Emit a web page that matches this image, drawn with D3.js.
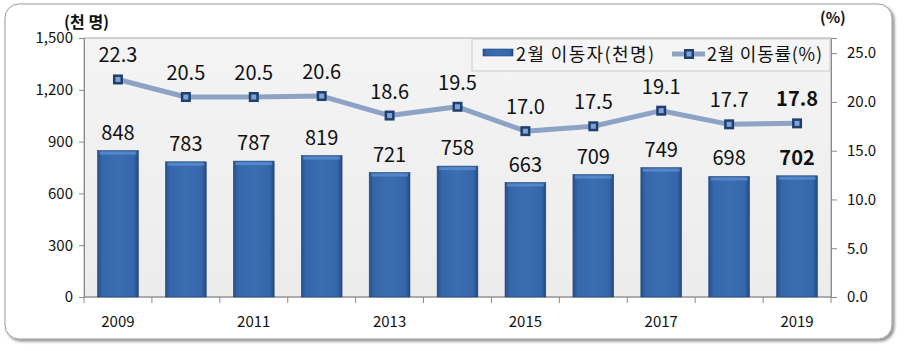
<!DOCTYPE html>
<html>
<head>
<meta charset="utf-8">
<script src="https://cdn.jsdelivr.net/npm/d3@7"></script>
<style>
  body { margin: 0; background: #fff; }
  svg text { font-family: "Noto Sans CJK KR", "Noto Sans", sans-serif; fill: #111; }
</style>
</head>
<body>
<div id="chart"></div>
<script>
// chart data
const years = ["2009", "2010", "2011", "2012", "2013", "2014", "2015", "2016", "2017", "2018", "2019"];
const movers = [848, 783, 787, 819, 721, 758, 663, 709, 749, 698, 702];      // 2월 이동자(천명)
const rates = [22.3, 20.5, 20.5, 20.6, 18.6, 19.5, 17.0, 17.5, 19.1, 17.7, 17.8]; // 2월 이동률(%)
const leftTicks = [0, 300, 600, 900, 1200, 1500];
const rightTicks = [0, 5, 10, 15, 20, 25];
const xLabels = ["2009", "2011", "2013", "2015", "2017", "2019"];

const width = 906, height = 351;
const plot = { left: 84, right: 831, top: 38, bottom: 297 };

const svg = d3.select("#chart").append("svg")
    .attr("width", width)
    .attr("height", height);

const defs = svg.append("defs");

// bar gradient (darker edges, lighter middle)
const barGrad = defs.append("linearGradient").attr("id", "barGrad")
    .attr("x1", 0).attr("x2", 1).attr("y1", 0).attr("y2", 0);
barGrad.append("stop").attr("offset", "0%").attr("stop-color", "#27508c");
barGrad.append("stop").attr("offset", "12%").attr("stop-color", "#3567aa");
barGrad.append("stop").attr("offset", "50%").attr("stop-color", "#3a6db2");
barGrad.append("stop").attr("offset", "88%").attr("stop-color", "#3567aa");
barGrad.append("stop").attr("offset", "100%").attr("stop-color", "#234a84");

const plotGrad = defs.append("linearGradient").attr("id", "plotGrad")
    .attr("x1", 0).attr("x2", 0).attr("y1", 0).attr("y2", 1);
plotGrad.append("stop").attr("offset", "0%").attr("stop-color", "#f4f4f4");
plotGrad.append("stop").attr("offset", "100%").attr("stop-color", "#ececec");

const shadow = defs.append("filter").attr("id", "shadow")
    .attr("x", "-5%").attr("y", "-5%").attr("width", "110%").attr("height", "115%");
shadow.append("feDropShadow").attr("dx", 2).attr("dy", 2).attr("stdDeviation", 1.5)
    .attr("flood-color", "#000").attr("flood-opacity", 0.45);

// outer frame
svg.append("rect")
    .attr("x", 5).attr("y", 4).attr("width", 887).attr("height", 335)
    .attr("rx", 14)
    .attr("fill", "#fff")
    .attr("stroke", "#9a9a9a")
    .attr("stroke-width", 1)
    .attr("filter", "url(#shadow)");

// plot area
svg.append("rect")
    .attr("x", plot.left).attr("y", plot.top)
    .attr("width", plot.right - plot.left).attr("height", plot.bottom - plot.top)
    .attr("fill", "url(#plotGrad)")
    .attr("stroke", "#a8a8a8");

// scales
const x = d3.scaleBand().domain(years).range([plot.left, plot.right]).paddingInner(0.4).paddingOuter(0.2);
const step = x.step();
const yLeft = d3.scaleLinear().domain([0, 1500]).range([plot.bottom, plot.top]);
const yRight = d3.scaleLinear().domain([0, 26.55]).range([plot.bottom, plot.top]);

// left axis
const leftAxis = svg.append("g")
    .attr("transform", `translate(${plot.left},0)`)
    .call(d3.axisLeft(yLeft).tickValues(leftTicks).tickFormat(d3.format(",")).tickSize(5).tickPadding(6));
leftAxis.select(".domain").attr("stroke", "#8a8a8a");
leftAxis.selectAll(".tick line").attr("stroke", "#8a8a8a");
leftAxis.selectAll("text").style("font-size", "15px").attr("fill", "#111");

// right axis
const rightAxis = svg.append("g")
    .attr("transform", `translate(${plot.right},0)`)
    .call(d3.axisRight(yRight).tickValues(rightTicks).tickFormat(d3.format(".1f")).tickSize(6).tickPadding(10));
rightAxis.select(".domain").attr("stroke", "#8a8a8a");
rightAxis.selectAll(".tick line").attr("stroke", "#8a8a8a");
rightAxis.selectAll("text").style("font-size", "15px").attr("fill", "#111");

// x axis: ticks at category boundaries
const xAxis = svg.append("g").attr("transform", `translate(0,${plot.bottom})`);
xAxis.append("line")
    .attr("x1", plot.left).attr("x2", plot.right)
    .attr("stroke", "#8a8a8a");
xAxis.selectAll(".xtick")
    .data(d3.range(years.length + 1))
    .enter().append("line")
    .attr("x1", i => plot.left + i * step)
    .attr("x2", i => plot.left + i * step)
    .attr("y1", 0).attr("y2", 6)
    .attr("stroke", "#8a8a8a");
xAxis.selectAll(".xlabel")
    .data(xLabels)
    .enter().append("text")
    .attr("x", d => x(d) + x.bandwidth() / 2)
    .attr("y", 30)
    .attr("text-anchor", "middle")
    .style("font-size", "15px")
    .text(d => d);

// axis titles
svg.append("text").attr("x", 64).attr("y", 28)
    .style("font-size", "16px").style("font-weight", "bold").text("(천 명)");
svg.append("text").attr("x", 820).attr("y", 23)
    .style("font-size", "15px").style("font-weight", "bold").text("(%)");

// bars
svg.selectAll(".bar")
    .data(years)
    .enter().append("rect")
    .attr("class", "bar")
    .attr("x", d => x(d))
    .attr("y", (d, i) => yLeft(movers[i]))
    .attr("width", x.bandwidth())
    .attr("height", (d, i) => plot.bottom - yLeft(movers[i]))
    .attr("fill", "url(#barGrad)")
    .attr("stroke", "#1f4478")
    .attr("stroke-width", 0.6);

// bar top highlight
svg.selectAll(".barTop")
    .data(years)
    .enter().append("rect")
    .attr("x", d => x(d) + 2)
    .attr("y", (d, i) => yLeft(movers[i]) + 1)
    .attr("width", x.bandwidth() - 4)
    .attr("height", 3)
    .attr("fill", "#5b8ed0")
    .attr("opacity", 0.8);

// bar labels
svg.selectAll(".barLabel")
    .data(years)
    .enter().append("text")
    .attr("x", d => x(d) + x.bandwidth() / 2)
    .attr("y", (d, i) => yLeft(movers[i]) - 11)
    .attr("text-anchor", "middle")
    .style("font-size", "20px")
    .style("font-weight", (d, i) => i === years.length - 1 ? "bold" : "normal")
    .text((d, i) => movers[i]);

// rate line
const line = d3.line()
    .x((d, i) => x(years[i]) + x.bandwidth() / 2)
    .y(d => yRight(d));

svg.append("path")
    .datum(rates)
    .attr("d", line)
    .attr("fill", "none")
    .attr("stroke", "#8da3c6")
    .attr("stroke-width", 5)
    .attr("stroke-linejoin", "round");

// markers
const markers = svg.selectAll(".marker")
    .data(rates)
    .enter().append("g")
    .attr("transform", (d, i) => `translate(${x(years[i]) + x.bandwidth() / 2},${yRight(d)})`);
markers.append("rect")
    .attr("x", -5).attr("y", -5).attr("width", 10).attr("height", 10)
    .attr("fill", "#1f3f6e");
markers.append("rect")
    .attr("x", -2.5).attr("y", -2.5).attr("width", 5).attr("height", 5)
    .attr("fill", "#7fa3d6");

// rate labels
svg.selectAll(".rateLabel")
    .data(rates)
    .enter().append("text")
    .attr("x", (d, i) => x(years[i]) + x.bandwidth() / 2)
    .attr("y", d => yRight(d) - 17)
    .attr("text-anchor", "middle")
    .style("font-size", "20px")
    .style("font-weight", (d, i) => i === rates.length - 1 ? "bold" : "normal")
    .text(d => d.toFixed(1));

// legend
const legend = svg.append("g");
legend.append("rect")
    .attr("x", 472).attr("y", plot.top + 1).attr("width", plot.right - 473).attr("height", 32)
    .attr("fill", "#f6f6f6")
    .attr("stroke", "#c8c8c8")
    .attr("opacity", 0.95);
legend.append("rect")
    .attr("x", 483).attr("y", 49).attr("width", 30).attr("height", 7)
    .attr("fill", "url(#barGrad)")
    .attr("stroke", "#1f4478").attr("stroke-width", 0.6);
legend.append("text").attr("x", 516).attr("y", 61)
    .style("font-size", "18px").attr("textLength", 138).text("2월 이동자(천명)");
legend.append("line")
    .attr("x1", 672).attr("x2", 705).attr("y1", 54).attr("y2", 54)
    .attr("stroke", "#8da3c6").attr("stroke-width", 5);
legend.append("rect").attr("x", 684).attr("y", 49).attr("width", 10).attr("height", 10).attr("fill", "#1f3f6e");
legend.append("rect").attr("x", 686.5).attr("y", 51.5).attr("width", 5).attr("height", 5).attr("fill", "#7fa3d6");
legend.append("text").attr("x", 707).attr("y", 61)
    .style("font-size", "18px").attr("textLength", 115).text("2월 이동률(%)");
</script>
</body>
</html>
